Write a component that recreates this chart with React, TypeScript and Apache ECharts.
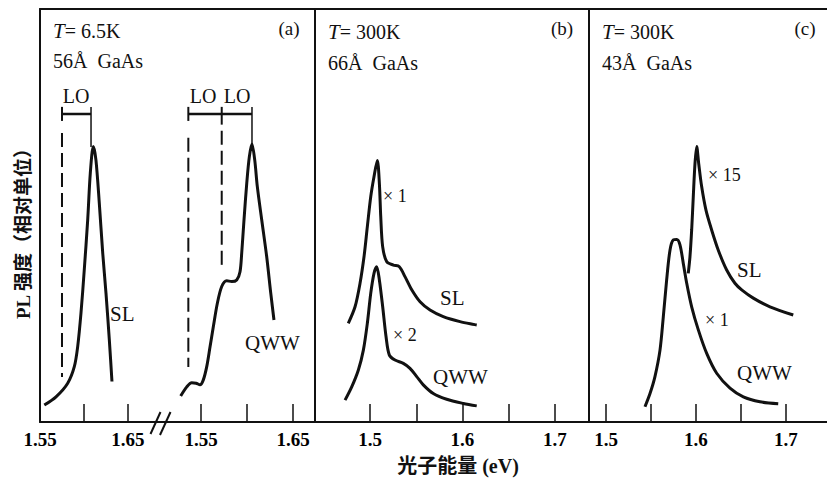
import React, { useEffect, useRef } from "react";
import * as echarts from "echarts";

// ---------- Panel (a): T = 6.5 K, 56 Å GaAs ----------
const A_SL_E = [1.5549, 1.5682, 1.5815, 1.589, 1.5928, 1.5966, 1.6003, 1.6042, 1.6072, 1.6106, 1.6136, 1.6174, 1.6213, 1.625, 1.6288, 1.6318];
const A_SL_I = [4.1, 6.1, 9.4, 13.4, 18.2, 26.4, 36.8, 48.9, 60.3, 66.7, 63.4, 53.0, 40.9, 31.2, 19.9, 9.8];

const A_QWW_E = [1.5279, 1.5345, 1.5399, 1.5446, 1.5489, 1.5525, 1.5562, 1.5598, 1.5634, 1.5677, 1.5725, 1.5779, 1.5834, 1.5888, 1.5924, 1.5942, 1.5967, 1.5997, 1.6025, 1.6054, 1.6084, 1.6112, 1.616, 1.6214, 1.6258, 1.6293];
const A_QWW_I = [6.3, 8.5, 9.5, 9.4, 9.0, 10.2, 13.4, 18.2, 23.1, 28.7, 32.8, 34.2, 34.0, 34.4, 36.4, 40.8, 48.9, 57.8, 64.2, 67.3, 63.4, 57.0, 48.9, 40.0, 31.2, 24.7];

// LO phonon replica markers (eV)
const LO_SL = [1.575, 1.608];
const LO_QWW = [1.5362, 1.5725, 1.6054];

// ---------- Panel (b): T = 300 K, 66 Å GaAs ----------
const B_SL_E = [1.4765, 1.4838, 1.4892, 1.4935, 1.4971, 1.5008, 1.5043, 1.5079, 1.5101, 1.5116, 1.5137, 1.5181, 1.5252, 1.5317, 1.5378, 1.5451, 1.5541, 1.5649, 1.5792, 1.5973, 1.6154];
const B_SL_I = [23.9, 27.9, 33.6, 40.0, 47.3, 54.6, 59.4, 63.3, 57.8, 49.7, 42.4, 38.8, 38.0, 37.6, 35.2, 32.0, 29.1, 27.1, 25.5, 24.3, 23.5];

const B_QWW_E = [1.473, 1.4802, 1.4874, 1.4928, 1.4971, 1.5008, 1.5043, 1.5072, 1.5101, 1.5137, 1.5173, 1.5209, 1.527, 1.536, 1.5432, 1.5505, 1.5576, 1.5684, 1.5829, 1.6009, 1.6154];
const B_QWW_I = [5.3, 8.5, 12.6, 17.4, 23.9, 31.2, 36.0, 37.6, 34.4, 27.9, 20.7, 16.2, 15.0, 14.2, 13.0, 11.0, 9.0, 6.9, 5.5, 4.5, 3.9];

// ---------- Panel (c): T = 300 K, 43 Å GaAs ----------
const C_SL_E = [1.5914, 1.5933, 1.5952, 1.597, 1.5989, 1.6008, 1.603, 1.6063, 1.6111, 1.6174, 1.6248, 1.6341, 1.6433, 1.6508, 1.6637, 1.6822, 1.7081];
const C_SL_I = [36.0, 40.0, 46.5, 54.6, 62.6, 66.7, 62.6, 57.0, 51.3, 46.5, 41.6, 36.8, 33.6, 32.0, 30.0, 27.9, 25.9];

const C_QWW_E = [1.5433, 1.5489, 1.5544, 1.56, 1.5637, 1.5674, 1.5711, 1.5748, 1.5786, 1.5822, 1.5859, 1.5897, 1.5952, 1.6026, 1.6119, 1.623, 1.6378, 1.6526, 1.6711, 1.6914];
const C_QWW_I = [3.7, 6.9, 11.0, 17.4, 25.5, 34.4, 41.6, 44.1, 44.2, 42.9, 38.4, 33.6, 27.9, 22.3, 16.6, 11.8, 8.2, 6.1, 4.9, 4.4];

// tick values
const TICKS_A = [1.55, 1.6, 1.65];
const LABELS_A = [1.55, 1.65];
const TICKS_BC = [1.5, 1.55, 1.6, 1.65, 1.7];
const LABELS_BC = [1.5, 1.6, 1.7];

const zip = (e: number[], v: number[]) => e.map((x, i) => [x, v[i]]);

const INK = "#111";
const SERIF = "'Liberation Serif', 'Noto Sans CJK SC', serif";

export default function App() {
  const ref = useRef<HTMLDivElement>(null);

  useEffect(() => {
    if (!ref.current) return;
    const chart = echarts.init(ref.current, undefined, { renderer: "svg" });

    const gridsPx = [
      { left: 40, width: 120 },
      { left: 160, width: 155 },
      { left: 315, width: 274 },
      { left: 589, width: 238 },
    ];
    const ranges = [
      [1.55, 1.6864],
      [1.5054, 1.6739],
      [1.4405, 1.7368],
      [1.4811, 1.7456],
    ];
    const tickSets = [TICKS_A, TICKS_A, TICKS_BC, TICKS_BC];
    const labelSets = [LABELS_A, LABELS_A, LABELS_BC, LABELS_BC];
    const fmt = [2, 2, 1, 1];

    const grid = gridsPx.map((g) => ({
      left: g.left,
      width: g.width,
      top: 9,
      height: 413,
      outerBoundsMode: "none",
      containLabel: false,
    }));

    const bottomAxes = ranges.map((r, i) => ({
      type: "value",
      gridIndex: i,
      position: "bottom",
      min: r[0],
      max: r[1],
      axisLine: { show: true, onZero: false, lineStyle: { color: INK, width: 2 } },
      axisTick: {
        show: true,
        inside: true,
        length: 18,
        customValues: tickSets[i],
        lineStyle: { color: INK, width: 1.5 },
      },
      axisLabel: {
        show: true,
        customValues: labelSets[i],
        formatter: (v: number) => v.toFixed(fmt[i]),
        color: "#000",
        fontFamily: "'Liberation Serif', serif",
        fontSize: 19,
        fontWeight: "bold",
        margin: 8,
      },
      splitLine: { show: false },
    }));
    const topAxes = ranges.map((r, i) => ({
      type: "value",
      gridIndex: i,
      position: "top",
      min: r[0],
      max: r[1],
      axisLine: { show: true, onZero: false, lineStyle: { color: INK, width: 2 } },
      axisTick: { show: false },
      axisLabel: { show: false },
      splitLine: { show: false },
    }));

    const yAxis = ranges.map((_, i) => ({
      type: "value",
      gridIndex: i,
      min: 0,
      max: 100,
      axisLine: { show: i !== 1, onZero: false, lineStyle: { color: INK, width: 2 } },
      axisTick: { show: false },
      axisLabel: { show: false },
      splitLine: { show: false },
    }));

    const curve = (idx: number, e: number[], v: number[]) => ({
      type: "line",
      xAxisIndex: idx,
      yAxisIndex: idx,
      data: zip(e, v),
      showSymbol: false,
      smooth: 0.3,
      lineStyle: { color: INK, width: 3 },
      silent: true,
      z: 3,
    });
    const seg = (idx: number, pts: number[][], dashed: boolean, width: number) => ({
      type: "line",
      xAxisIndex: idx,
      yAxisIndex: idx,
      data: pts,
      showSymbol: false,
      lineStyle: { color: INK, width, type: dashed ? [14, 6] : "solid" },
      silent: true,
      z: 2,
    });

    const series: any[] = [
      curve(0, A_SL_E, A_SL_I),
      curve(1, A_QWW_E, A_QWW_I),
      curve(2, B_SL_E, B_SL_I),
      curve(2, B_QWW_E, B_QWW_I),
      curve(3, C_SL_E, C_SL_I),
      curve(3, C_QWW_E, C_QWW_I),
      // LO markers, panel (a) SL
      seg(0, [[LO_SL[0], 70.0], [LO_SL[0], 10.9]], true, 2),
      seg(0, [[LO_SL[0], 76.3], [LO_SL[0], 72.9]], false, 2),
      seg(0, [[LO_SL[0], 74.6], [LO_SL[1], 74.6]], false, 2.5),
      seg(0, [[LO_SL[1], 76.3], [LO_SL[1], 66.6]], false, 1.5),
      // LO markers, panel (a) QWW
      seg(1, [[LO_QWW[0], 68.8], [LO_QWW[0], 13.3]], true, 2),
      seg(1, [[LO_QWW[0], 76.3], [LO_QWW[0], 72.9]], false, 2),
      seg(1, [[LO_QWW[0], 74.6], [LO_QWW[2], 74.6]], false, 2.5),
      seg(1, [[LO_QWW[1], 76.3], [LO_QWW[1], 72.0]], false, 2),
      seg(1, [[LO_QWW[1], 70.5], [LO_QWW[1], 38.0]], true, 2),
      seg(1, [[LO_QWW[2], 76.3], [LO_QWW[2], 67.3]], false, 1.5),
    ];

    const txt = (text: string, x: number, y: number, size: number, align = "left", extra: any = {}) => ({
      type: "text",
      x,
      y,
      silent: true,
      ...extra,
      style: {
        text,
        fill: INK,
        fontFamily: SERIF,
        fontSize: size,
        textAlign: align,
        textVerticalAlign: "middle",
        align,
        verticalAlign: "middle",
        ...(extra.style || {}),
      },
    });
    const richT = (rest: string, x: number, y: number) => ({
      type: "text",
      x,
      y,
      silent: true,
      style: {
        text: "{i|T}{n|" + rest + "}",
        fill: INK,
        fontFamily: SERIF,
        fontSize: 20,
        textAlign: "left",
        textVerticalAlign: "middle",
        align: "left",
        verticalAlign: "middle",
        rich: {
          i: { fontStyle: "italic", fontFamily: SERIF, fontSize: 21, fill: INK },
          n: { fontFamily: SERIF, fontSize: 20, fill: INK },
        },
      },
    });

    const graphic: any[] = [
      // panel headers
      richT("= 6.5K", 53, 31),
      txt("56Å  GaAs", 53, 61, 20),
      txt("(a)", 289, 28, 19, "center"),
      richT("= 300K", 328, 32),
      txt("66Å  GaAs", 328, 63, 20),
      txt("(b)", 562, 28, 19, "center"),
      richT("= 300K", 602, 32),
      txt("43Å  GaAs", 602, 63, 20),
      txt("(c)", 805, 28, 19, "center"),
      // LO labels
      txt("LO", 76, 96, 20, "center"),
      txt("LO", 203, 96, 20, "center"),
      txt("LO", 237, 96, 20, "center"),
      // curve labels
      txt("SL", 110, 314, 21),
      txt("QWW", 245, 343, 21),
      txt("× 1", 383, 196, 18),
      txt("SL", 440, 298, 21),
      txt("× 2", 393, 335, 18),
      txt("QWW", 433, 377, 21),
      txt("× 15", 708, 175, 18),
      txt("SL", 737, 270, 21),
      txt("× 1", 705, 320, 18),
      txt("QWW", 737, 373, 21),
      // axis break marks
      { type: "line", silent: true, shape: { x1: 150.5, y1: 434, x2: 160.5, y2: 412 }, style: { stroke: INK, lineWidth: 2 } },
      { type: "line", silent: true, shape: { x1: 160, y1: 435, x2: 170.5, y2: 412 }, style: { stroke: INK, lineWidth: 2 } },
      // axis titles
      txt("光子能量 (eV)", 458, 466, 20, "center", { style: { fontWeight: "bold" } }),
      txt("PL 强度（相对单位）", 23, 229, 19, "center", { rotation: Math.PI / 2, style: { fontWeight: "bold" } }),
    ];

    chart.setOption({
      animation: false,
      backgroundColor: "#fff",
      grid,
      xAxis: [...bottomAxes, ...topAxes],
      yAxis,
      series,
      graphic,
    } as any);

    return () => chart.dispose();
  }, []);

  return (
    <div
      ref={ref}
      style={{ position: "absolute", left: 0, top: 0, width: 827, height: 484, background: "#fff" }}
    />
  );
}
